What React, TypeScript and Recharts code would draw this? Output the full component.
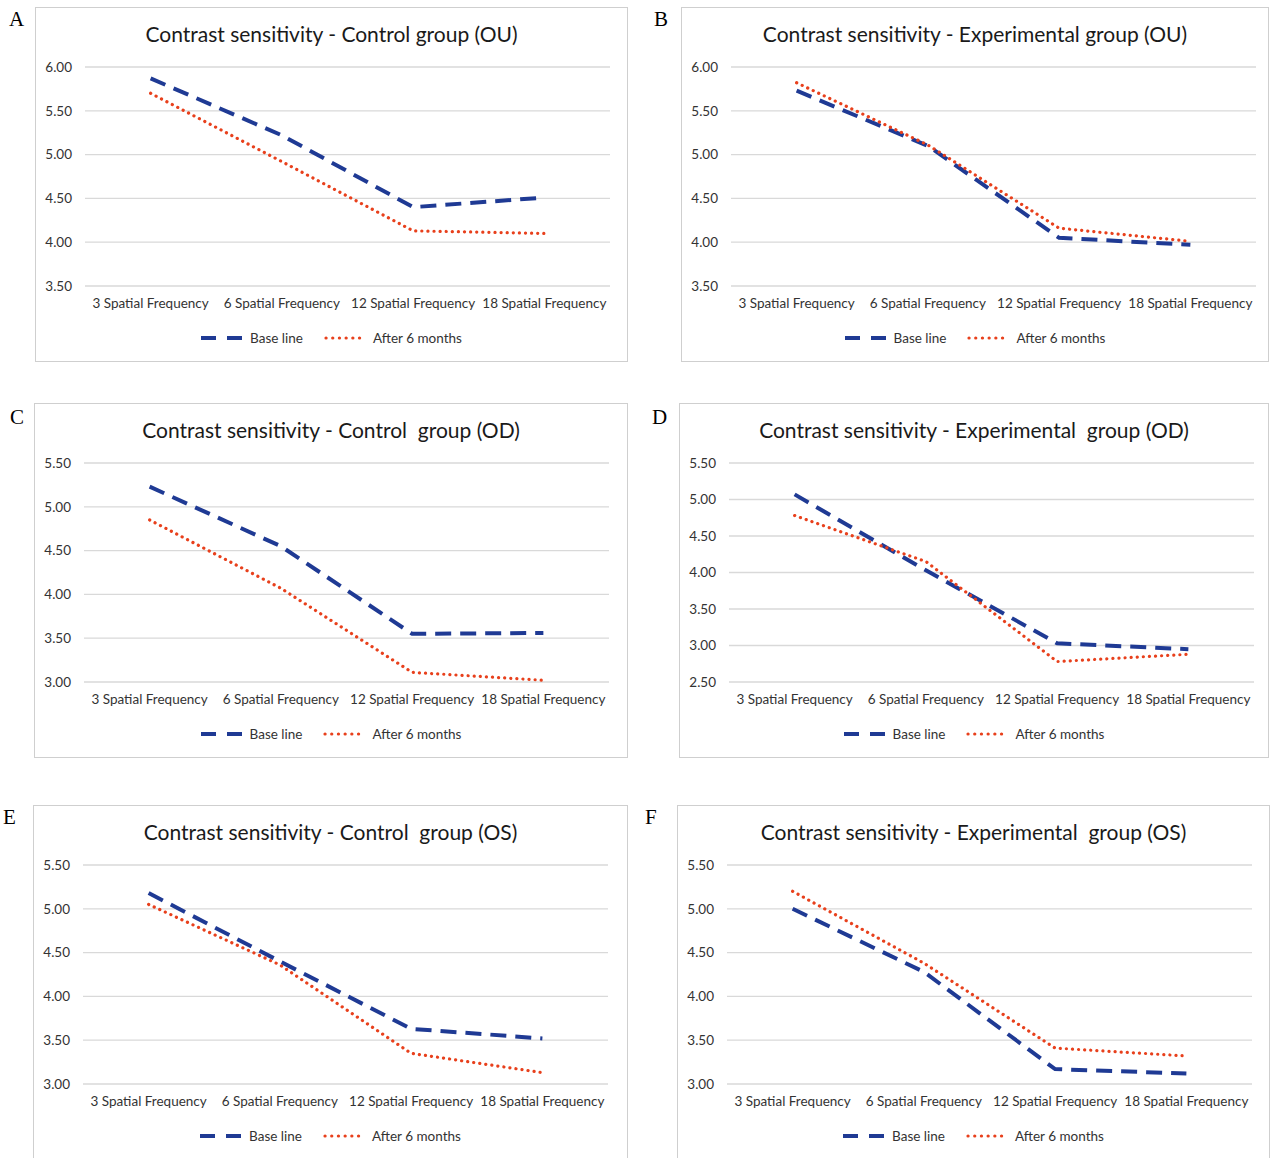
import React from "react";
import { ComposedChart, Line, XAxis, YAxis, CartesianGrid, Legend } from "recharts";

const categories = ["3 Spatial Frequency", "6 Spatial Frequency", "12 Spatial Frequency", "18 Spatial Frequency"];

const baseA = [5.87, 5.22, 4.4, 4.51];
const afterA = [5.7, 4.92, 4.13, 4.1];
const baseB = [5.73, 5.1, 4.05, 3.97];
const afterB = [5.82, 5.11, 4.16, 4.01];
const baseC = [5.23, 4.55, 3.55, 3.56];
const afterC = [4.85, 4.07, 3.11, 3.02];
const baseD = [5.07, 4.03, 3.03, 2.95];
const afterD = [4.78, 4.15, 2.78, 2.88];
const baseE = [5.18, 4.4, 3.63, 3.52];
const afterE = [5.05, 4.36, 3.35, 3.13];
const baseF = [5.0, 4.28, 3.17, 3.12];
const afterF = [5.2, 4.38, 3.41, 3.32];

const ticksHigh = [3.5, 4, 4.5, 5, 5.5, 6];
const ticksMid = [3, 3.5, 4, 4.5, 5, 5.5];
const ticksLow = [2.5, 3, 3.5, 4, 4.5, 5, 5.5];

const BLUE = "#1f3a94";
const RED = "#e8401c";
const FONT = "Lato, 'Noto Sans', sans-serif";

const build = (base: number[], after: number[]) =>
  categories.map((c, i) => ({ cat: c, base: base[i], after: after[i] }));

const panels = [
  { letter: "A", lx: 9, ly: 9, x: 35, y: 7, w: 593, title: "Contrast sensitivity - Control group (OU)", base: baseA, after: afterA, ticks: ticksHigh },
  { letter: "B", lx: 654, ly: 9, x: 681, y: 7, w: 588, title: "Contrast sensitivity - Experimental group (OU)", base: baseB, after: afterB, ticks: ticksHigh },
  { letter: "C", lx: 10, ly: 407, x: 34, y: 403, w: 594, title: "Contrast sensitivity - Control  group (OD)", base: baseC, after: afterC, ticks: ticksMid },
  { letter: "D", lx: 652, ly: 407, x: 679, y: 403, w: 590, title: "Contrast sensitivity - Experimental  group (OD)", base: baseD, after: afterD, ticks: ticksLow },
  { letter: "E", lx: 3, ly: 807, x: 33, y: 805, w: 595, title: "Contrast sensitivity - Control  group (OS)", base: baseE, after: afterE, ticks: ticksMid },
  { letter: "F", lx: 645, ly: 807, x: 677, y: 805, w: 593, title: "Contrast sensitivity - Experimental  group (OS)", base: baseF, after: afterF, ticks: ticksMid },
];

const H = 355;

function LegendBox() {
  return (
    <div style={{ display: "flex", justifyContent: "center", alignItems: "center", height: 20, fontFamily: FONT, fontSize: 13.5, color: "#333" }}>
      <svg width={42} height={10}>
        <line x1={0} y1={5} x2={42} y2={5} stroke={BLUE} strokeWidth={4} strokeDasharray="15 11" />
      </svg>
      <span style={{ marginLeft: 7, marginRight: 21 }}>Base line</span>
      <svg width={42} height={10}>
        <line x1={2} y1={5} x2={42} y2={5} stroke={RED} strokeWidth={3.2} strokeDasharray="0.1 6.6" strokeLinecap="round" />
      </svg>
      <span style={{ marginLeft: 7 }}>After 6 months</span>
    </div>
  );
}

function Panel({ p }: { p: (typeof panels)[number] }) {
  const data = build(p.base, p.after);
  const plotRight = 575;
  return (
    <>
      <div style={{ position: "absolute", left: p.lx, top: p.ly, fontFamily: "'Liberation Serif', 'Times New Roman', serif", fontSize: 21, lineHeight: 1, color: "#000" }}>
        {p.letter}
      </div>
      <div style={{ position: "absolute", left: p.x, top: p.y, width: p.w, height: H }}>
        <div style={{ position: "absolute", inset: 0, border: "1.5px solid #cfcfcf", boxSizing: "border-box" }} />
        <div style={{ position: "absolute", left: 0, width: p.w, top: 14, textAlign: "center", fontFamily: FONT, fontSize: 21, color: "#1a1a1a", whiteSpace: "pre" }}>
          {p.title}
        </div>
        <div style={{ position: "absolute", left: 0, top: 0 }}>
          <ComposedChart width={p.w} height={H} data={data} margin={{ top: 60, right: p.w - plotRight, left: 0, bottom: 14 }}>
            <CartesianGrid vertical={false} stroke="#d9d9d9" strokeWidth={1.3} />
            <XAxis
              dataKey="cat"
              scale="band"
              interval={0}
              tickLine={false}
              axisLine={false}
              tickSize={0}
              tickMargin={12}
              height={42}
              tick={{ fill: "#333", fontSize: 13.5, fontFamily: FONT }}
            />
            <YAxis
              width={50}
              domain={[p.ticks[0], p.ticks[p.ticks.length - 1]]}
              ticks={p.ticks}
              tickFormatter={(v: number) => v.toFixed(2)}
              tickLine={false}
              axisLine={false}
              tickSize={0}
              tickMargin={13}
              tick={{ fill: "#333", fontSize: 13.5, fontFamily: FONT }}
            />
            <Legend verticalAlign="bottom" height={20} wrapperStyle={{ left: 0, width: p.w }} content={() => <LegendBox />} />
            <Line
              type="linear"
              dataKey="base"
              name="Base line"
              stroke={BLUE}
              strokeWidth={4}
              strokeDasharray="16 9"
              dot={false}
              activeDot={false}
              isAnimationActive={false}
            />
            <Line
              type="linear"
              dataKey="after"
              name="After 6 months"
              stroke={RED}
              strokeWidth={3.2}
              strokeDasharray="0.1 6"
              strokeLinecap="round"
              dot={false}
              activeDot={false}
              isAnimationActive={false}
            />
          </ComposedChart>
        </div>
      </div>
    </>
  );
}

export default function App() {
  return (
    <div style={{ position: "absolute", left: 0, top: 0, width: 1270, height: 1158, overflow: "hidden", background: "#fff" }}>
      {panels.map((p) => (
        <Panel key={p.letter} p={p} />
      ))}
    </div>
  );
}
